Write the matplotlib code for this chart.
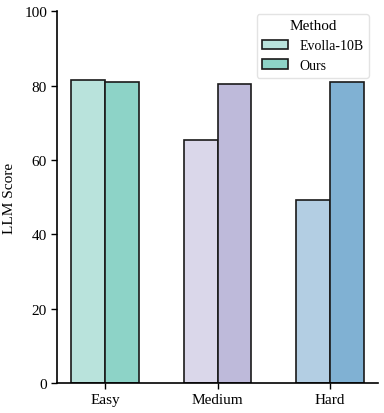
import matplotlib
matplotlib.use('Agg')
import matplotlib.pyplot as plt
import numpy as np

# data
levels = ["Easy", "Medium", "Hard"]
evolla = [81.5, 65.3, 49.2]
ours = [80.9, 80.5, 80.9]
methods = ["Evolla-10B", "Ours"]

ours_colors = ["#8dd3c7", "#bebada", "#80b1d3"]
evolla_colors = ["#b9e3dc", "#dad7ea", "#b3cee3"]

plt.rcParams['font.family'] = ['Liberation Serif', 'DejaVu Serif']
plt.rcParams['font.size'] = 11

fig, ax = plt.subplots(figsize=(3.84, 4.14), dpi=100)
x = np.arange(len(levels))
w = 0.3
ax.bar(x - w / 2, evolla, w, color=evolla_colors, edgecolor="#1a1a1a", linewidth=1.2, label=methods[0])
ax.bar(x + w / 2, ours, w, color=ours_colors, edgecolor="#1a1a1a", linewidth=1.2, label=methods[1])

ax.set_xticks(x)
ax.set_xticklabels(levels)
ax.set_xlim(-0.43, 2.43)
ax.set_ylim(0, 100)
ax.set_yticks([0, 20, 40, 60, 80, 100])
ax.set_ylabel("LLM Score", labelpad=6)
ax.spines['top'].set_visible(False)
ax.spines['right'].set_visible(False)
ax.spines['left'].set_linewidth(1.2)
ax.spines['bottom'].set_linewidth(1.2)
ax.tick_params(width=1.0, length=4, pad=3)

leg = ax.legend(title="Method", loc="upper right", bbox_to_anchor=(0.985, 1.005),
                fontsize=10, title_fontsize=11, frameon=True, handlelength=1.9,
                borderaxespad=0.3)
leg.get_frame().set_edgecolor("#dddddd")

fig.subplots_adjust(left=0.148, right=0.985, bottom=0.073, top=0.97)
fig.savefig("out.png", dpi=100)
